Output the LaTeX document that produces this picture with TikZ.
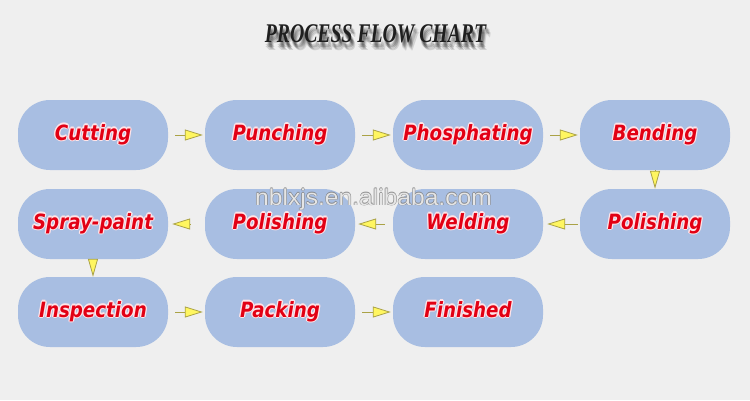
\documentclass[tikz,border=0pt]{standalone}
\usepackage{fontspec}
\usetikzlibrary{arrows.meta}
\newfontfamily\stepfont[FakeStretch=0.87]{DejaVu Sans}
\newfontfamily\titlefont[FakeStretch=0.73]{Liberation Serif}
\newfontfamily\markfont[FakeStretch=1.07]{Liberation Sans}
\definecolor{bg}{RGB}{239,239,239}
\definecolor{boxblue}{RGB}{168,190,226}
\definecolor{stepred}{RGB}{226,0,20}
\definecolor{halo}{RGB}{255,228,232}
\definecolor{arrowfill}{RGB}{255,246,96}
\definecolor{arrowline}{RGB}{170,162,70}
\newcommand\glowtxt[1]{\leavevmode
 \rlap{\color{halo}\kern1.3pt#1}\rlap{\color{halo}\kern-1.3pt#1}%
 \rlap{\raisebox{1.3pt}{\color{halo}#1}}\rlap{\raisebox{-1.3pt}{\color{halo}#1}}%
 \rlap{\raisebox{0.9pt}{\color{halo}\kern0.9pt#1}}\rlap{\raisebox{0.9pt}{\color{halo}\kern-0.9pt#1}}%
 \rlap{\raisebox{-0.9pt}{\color{halo}\kern0.9pt#1}}\rlap{\raisebox{-0.9pt}{\color{halo}\kern-0.9pt#1}}%
 {\color{stepred}#1}}
\newcommand\edgetxt[1]{\leavevmode
 \rlap{\color{gray}\kern0.6pt#1}\rlap{\color{gray}\kern-0.6pt#1}%
 \rlap{\raisebox{0.6pt}{\color{gray}#1}}\rlap{\raisebox{-0.6pt}{\color{gray}#1}}%
 {\color{white}#1}}
\tikzset{
 stepbox/.style={fill=boxblue, draw=none, rounded corners=32pt,
   minimum width=150pt, minimum height=70pt, inner sep=0pt,
   text height=15pt, text depth=5pt,
   font=\stepfont\bfseries\itshape\fontsize{21}{21}\selectfont},
 flow/.style={draw=arrowline, line width=0.8pt,
   -{Triangle[length=18pt,width=11pt,fill=arrowfill]},
   shorten <=7pt, shorten >=2pt},
 vflow/.style={flow, -{Triangle[length=18pt,width=10pt,fill=arrowfill]},
   shorten <=0pt, shorten >=0pt},
 titlestyle/.style={anchor=base, inner sep=0pt,
   font=\titlefont\bfseries\itshape\fontsize{27}{27}\selectfont},
}
\begin{document}
\begin{tikzpicture}[x=1pt,y=-1pt]
\fill[bg] (0,0) rectangle (750,400);
\useasboundingbox (0,0) rectangle (750,400);
% title with shadow
\foreach \dx/\dy [count=\i] in {1/3,2/4,3/5,2/6,3/7,4/8,1/5}
  \node[titlestyle, text=black, text opacity=0.12] (tshadow\i) at (375.5+\dx,42+\dy) {PROCESS FLOW CHART};
\node[titlestyle, text=black!88] (title) at (375.5,42) {PROCESS FLOW CHART};
% steps
\node[stepbox] (cut)   at (93,135)  {\glowtxt{Cutting}};
\node[stepbox] (punch) at (280,135) {\glowtxt{Punching}};
\node[stepbox] (phos)  at (468,135) {\glowtxt{Phosphating}};
\node[stepbox] (bend)  at (655,135) {\glowtxt{Bending}};
\node[stepbox] (pola)  at (655,224) {\glowtxt{Polishing}};
\node[stepbox] (weld)  at (468,224) {\glowtxt{Welding}};
\node[stepbox] (polb)  at (280,224) {\glowtxt{Polishing}};
\node[stepbox] (spray) at (93,224)  {\glowtxt{Spray-paint}};
\node[stepbox] (insp)  at (93,312)  {\glowtxt{Inspection}};
\node[stepbox] (pack)  at (280,312) {\glowtxt{Packing}};
\node[stepbox] (fin)   at (468,312) {\glowtxt{Finished}};
% connectors
\draw[flow] (cut) -- (punch);
\draw[flow] (punch) -- (phos);
\draw[flow] (phos) -- (bend);
\draw[vflow] (bend) -- (pola);
\draw[flow, shorten <=2pt, shorten >=4pt] (pola) -- (weld);
\draw[flow, shorten <=8pt, shorten >=3pt] (weld) -- (polb);
\draw[flow, shorten <=14pt, shorten >=4pt] (polb) -- (spray);
\draw[vflow] (spray) -- (insp);
\draw[flow] (insp) -- (pack);
\draw[flow] (pack) -- (fin);
% watermark
\node[anchor=base west, inner sep=0pt, text opacity=0.8,
  font=\markfont\fontsize{23}{23}\selectfont] (mark) at (255,205) {\edgetxt{nblxjs.en.alibaba.com}};
\end{tikzpicture}
\end{document}
